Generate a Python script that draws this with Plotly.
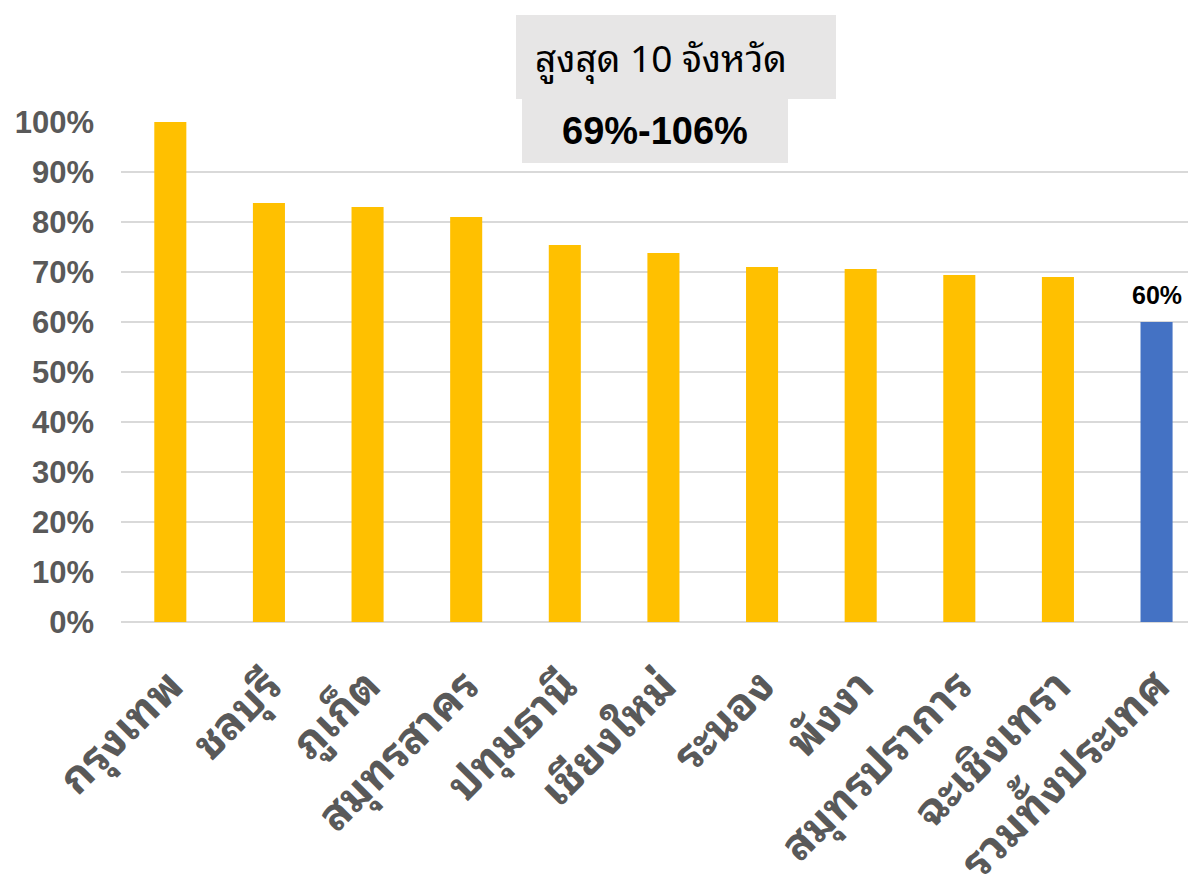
import plotly.graph_objects as go

provinces = ["กรุงเทพ", "ชลบุรี", "ภูเก็ต", "สมุทรสาคร", "ปทุมธานี", "เชียงใหม่",
             "ระนอง", "พังงา", "สมุทรปราการ", "ฉะเชิงเทรา", "รวมทั้งประเทศ"]
values = [1.06, 0.838, 0.830, 0.810, 0.754, 0.738, 0.710, 0.706, 0.694, 0.690, 0.60]
bar_colors = ["#FFC000"] * 10 + ["#4472C4"]
tick_vals = [i / 10 for i in range(11)]

title_line1 = "สูงสุด 10 จังหวัด"
title_line2 = "69%-106%"

THAI = "Noto Sans Thai Looped, Loma, Noto Sans Thai, sans-serif"
LATIN = "Arial, Liberation Sans, sans-serif"

fig = go.Figure()
fig.add_trace(go.Bar(
    x=provinces, y=values, marker_color=bar_colors, marker_line_width=0,
))

# page has an 8px body margin: work in absolute page pixels, convert to figure pixels
OFF = 8
W, H = 1196 - OFF, 878 - OFF
plot_x0, plot_x1 = 121 - OFF, 1196 - OFF
plot_y0, plot_y1 = 122 - OFF, 622 - OFF
L, R, T, B = plot_x0, W - plot_x1, plot_y0, H - plot_y1
pw, ph = plot_x1 - plot_x0, plot_y1 - plot_y0


def px(x):
    return (x - OFF - plot_x0) / pw


def py(y):
    return (plot_y1 - (y - OFF)) / ph


fig.update_layout(
    width=W, height=H,
    margin=dict(l=L, r=R, t=T, b=B, autoexpand=False),
    plot_bgcolor="white", paper_bgcolor="white",
    bargap=0.675, showlegend=False,
    xaxis=dict(range=[-0.5, 10.4], tickangle=-45, automargin=False,
               tickfont=dict(family=THAI, size=44, color="#595959", weight="bold"),
               showgrid=False, showline=False, ticks="", ticklabelstandoff=28),
    yaxis=dict(range=[0, 1.0], tickvals=tick_vals, tickformat=".0%", automargin=False,
               tickfont=dict(family=LATIN, size=31, color="#595959", weight="bold"),
               gridcolor="#D9D9D9", gridwidth=2, zeroline=True, zerolinecolor="#D9D9D9",
               zerolinewidth=2, ticklabelstandoff=26, showline=False),
    shapes=[
        dict(type="rect", xref="paper", yref="paper", x0=px(516), x1=px(836), y0=py(99), y1=py(15),
             fillcolor="#E7E6E6", line_width=0, layer="above"),
        dict(type="rect", xref="paper", yref="paper", x0=px(522), x1=px(788), y0=py(163), y1=py(99),
             fillcolor="#E7E6E6", line_width=0, layer="above"),
    ],
    annotations=[
        dict(text=title_line1, xref="paper", yref="paper", x=px(661), y=py(55), showarrow=False,
             xanchor="center", yanchor="middle",
             font=dict(family=THAI, size=37, color="#000000")),
        dict(text=title_line2, xref="paper", yref="paper", x=px(655), y=py(131), showarrow=False,
             xanchor="center", yanchor="middle",
             font=dict(family=LATIN, size=38, color="#000000", weight="bold")),
        dict(text=f"{values[-1]:.0%}", x=provinces[-1], y=values[-1], xref="x", yref="y",
             showarrow=False, xanchor="center", yanchor="bottom", yshift=11,
             font=dict(family=LATIN, size=25, color="#000000", weight="bold")),
    ],
)

fig.write_html("out.html")
